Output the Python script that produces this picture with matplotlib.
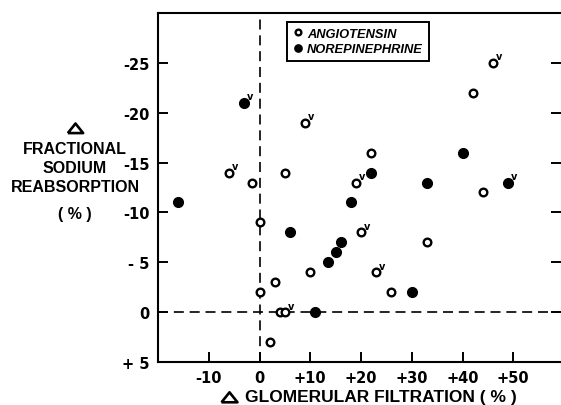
import matplotlib
matplotlib.use("Agg")
import matplotlib.pyplot as plt
from matplotlib.lines import Line2D

plt.rcParams["font.family"] = ["Liberation Sans", "DejaVu Sans"]

# angiotensin (open circles); flag = 1 marks the small "v" next to the point
ang_x = [-6, -1.5, 0, 0, 2, 3, 4, 5, 5, 9, 10, 19, 20, 22, 23, 26, 33, 42, 44, 46]
ang_y = [-14, -13, -9, -2, 3, -3, 0, 0, -14, -19, -4, -13, -8, -16, -4, -2, -7, -22, -12, -25]
ang_v = [1, 0, 0, 0, 0, 0, 0, 1, 0, 1, 0, 1, 1, 0, 1, 0, 0, 0, 0, 1]

# norepinephrine (filled circles)
nor_x = [-16, -3, 6, 11, 13.5, 15, 16, 18, 22, 30, 33, 40, 49]
nor_y = [-11, -21, -8, 0, -5, -6, -7, -11, -14, -2, -13, -16, -13]
nor_v = [0, 1, 0, 0, 0, 0, 0, 0, 0, 0, 0, 0, 1]

xticks = [-10, 0, 10, 20, 30, 40, 50]
xlabels = ["-10", "0", "+10", "+20", "+30", "+40", "+50"]
yticks = [-25, -20, -15, -10, -5, 0, 5]
ylabels = ["-25", "-20", "-15", "-10", "- 5", "0", "+ 5"]

fig = plt.figure(figsize=(5.61, 4.06), dpi=100)
ax = fig.add_axes([158 / 561, 1 - 363 / 406, 403 / 561, 349 / 406])

# reference lines
ax.axvline(0, color="black", lw=1.2, dashes=(6, 3.5), zorder=1)
ax.axhline(0, color="black", lw=1.2, dashes=(6, 3.5), zorder=1)

ax.plot(ang_x, ang_y, "o", ms=5.5, mfc="white", mec="black", mew=1.7,
        ls="none", label="ANGIOTENSIN", zorder=3)
ax.plot(nor_x, nor_y, "o", ms=7, mfc="black", mec="black",
        ls="none", label="NOREPINEPHRINE", zorder=3)

for x, y, v in zip(ang_x + nor_x, ang_y + nor_y, ang_v + nor_v):
    if v:
        ax.annotate("v", (x, y), xytext=(2.2, 1), textcoords="offset points",
                    fontsize=7, fontweight="bold", family="DejaVu Sans",
                    ha="left", va="bottom")

ax.set_xlim(-20, 59.4)
ax.set_ylim(5, -30)
ax.set_xticks(xticks)
ax.set_xticklabels(xlabels)
ax.set_yticks(yticks)
ax.set_yticklabels(ylabels)
ax.tick_params(direction="in", length=7, width=1.4, pad=6, right=True)
for lab in ax.get_xticklabels() + ax.get_yticklabels():
    lab.set_fontfamily("DejaVu Sans")
    lab.set_fontweight("bold")
    lab.set_fontsize(10.5)
for s in ax.spines.values():
    s.set_linewidth(1.5)
# right edge of the frame falls off the scanned page
ax.spines["right"].set_visible(False)

leg = ax.legend(loc="upper left", bbox_to_anchor=(0.32, 0.975), borderaxespad=0,
                fancybox=False, edgecolor="black", framealpha=1,
                handletextpad=0.3, handlelength=0.8, borderpad=0.45,
                labelspacing=0.3, markerscale=0.75,
                prop={"size": 9.3, "weight": "bold", "style": "italic"})
leg.get_frame().set_linewidth(1.4)

# outline triangle used for the "delta" in both axis titles
tri = [(-1, -0.6), (1, -0.6), (0, 0.65), (-1, -0.6)]
fig.add_artist(Line2D([75 / 561], [1 - 129 / 406], marker=tri, ms=11,
                      mfc="none", mec="black", mew=1.9, ls="none",
                      transform=fig.transFigure))
fig.add_artist(Line2D([229 / 561], [1 - 398 / 406], marker=tri, ms=11.5,
                      mfc="none", mec="black", mew=1.9, ls="none",
                      transform=fig.transFigure))

# y axis title, stacked lines
for txt, yp in [("FRACTIONAL", 150), ("SODIUM", 169), ("REABSORPTION", 188),
                ("( % )", 215)]:
    fig.text(75 / 561, 1 - yp / 406, txt, ha="center", va="center",
             fontsize=11.5, fontweight="bold")

fig.text(245 / 561, 1 - 398 / 406, "GLOMERULAR FILTRATION ( % )",
         ha="left", va="center", fontsize=12.5, fontweight="bold")

fig.savefig("out.png", dpi=100)
